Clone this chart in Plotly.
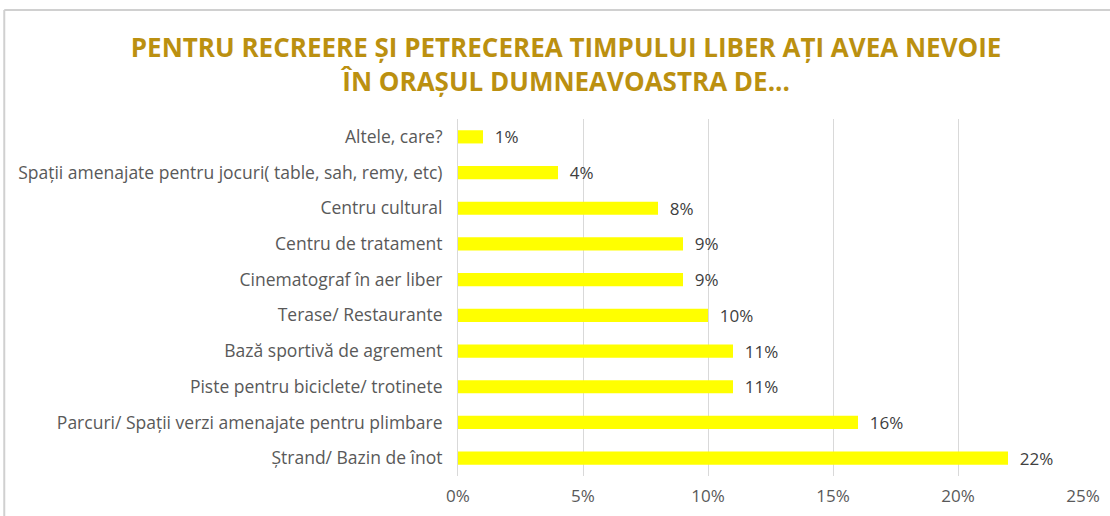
import plotly.graph_objects as go

categories = [
    "Ștrand/ Bazin de înot",
    "Parcuri/ Spații verzi amenajate pentru plimbare",
    "Piste pentru biciclete/ trotinete",
    "Bază sportivă de agrement",
    "Terase/ Restaurante",
    "Cinematograf în aer liber",
    "Centru de tratament",
    "Centru cultural",
    "Spații amenajate pentru jocuri( table, sah, remy, etc)",
    "Altele, care?",
]
values = [22, 16, 11, 11, 10, 9, 9, 8, 4, 1]
labels = [f"  {v}%" for v in values]
tick_vals = [0, 5, 10, 15, 20, 25]
tick_text = ["0%", "5%", "10%", "15%", "20%", "25%"]

fig = go.Figure(go.Bar(
    y=categories, x=values, orientation="h",
    marker=dict(color="#FFFF00", line=dict(width=0)),
    width=0.37,
    text=labels, textposition="outside", cliponaxis=False,
    constraintext="none",
    textfont=dict(family="Open Sans", size=17, color="#404040"),
))

fig.update_layout(
    width=1110, height=516,
    paper_bgcolor="white", plot_bgcolor="white",
    margin=dict(l=458, r=27, t=119, b=40, autoexpand=False),
    showlegend=False,
    title=dict(
        text="PENTRU RECREERE ȘI PETRECEREA TIMPULUI LIBER AȚI AVEA NEVOIE<br>ÎN ORAȘUL DUMNEAVOASTRA DE...",
        x=0.51, xanchor="center", y=0.889, yanchor="middle",
        font=dict(family="Open Sans", size=26, color="#BB9010", weight="bold"),
    ),
    xaxis=dict(
        range=[0, 25], tickvals=tick_vals, ticktext=tick_text,
        showgrid=True, gridcolor="#D9D9D9", gridwidth=1,
        zeroline=False, showline=False, automargin=False,
        tickfont=dict(family="Open Sans", size=17, color="#595959"),
        ticks="", ticklabelstandoff=8,
    ),
    yaxis=dict(
        showgrid=False, zeroline=False, showline=True, linecolor="#D9D9D9",
        automargin=False,
        tickfont=dict(family="Open Sans", size=17.5, color="#595959"),
        ticks="", ticklabelstandoff=11,
    ),
    shapes=[
        dict(type="line", xref="paper", yref="paper",
             x0=-0.726, x1=1.1, y0=1.305, y1=1.305,
             line=dict(color="#D0D0D0", width=2)),
        dict(type="line", xref="paper", yref="paper",
             x0=-0.726, x1=-0.726, y0=-0.2, y1=1.305,
             line=dict(color="#D0D0D0", width=2)),
    ],
)

fig.write_html("out.html", config={"displayModeBar": False},
               post_script="document.body.style.margin='0';")
